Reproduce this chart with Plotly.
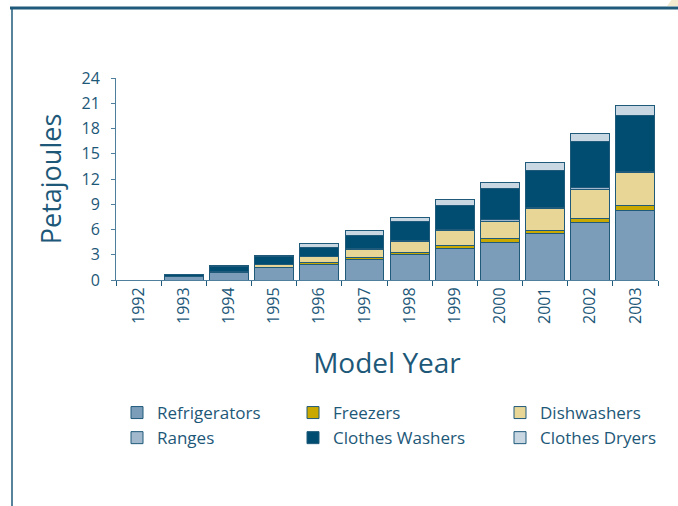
"""Energy savings by model year, stacked by appliance."""

import plotly.graph_objects as go

years = ["1992", "1993", "1994", "1995", "1996", "1997", "1998", "1999", "2000", "2001", "2002", "2003"]

refrigerators = [0, 0.40, 0.90, 1.45, 1.90, 2.45, 3.05, 3.70, 4.50, 5.50, 6.80, 8.20]
freezers = [0, 0.02, 0.08, 0.05, 0.20, 0.25, 0.25, 0.45, 0.40, 0.35, 0.50, 0.60]
dishwashers = [0, 0.00, 0.02, 0.35, 0.70, 0.95, 1.30, 1.75, 2.10, 2.60, 3.50, 4.00]
ranges = [0, 0.00, 0.00, 0.00, 0.05, 0.08, 0.10, 0.15, 0.15, 0.15, 0.15, 0.15]
clothes_washers = [0, 0.24, 0.66, 0.97, 1.05, 1.60, 2.20, 2.75, 3.70, 4.40, 5.45, 6.65]
clothes_dryers = [0, 0.05, 0.08, 0.10, 0.45, 0.60, 0.55, 0.75, 0.75, 1.00, 0.95, 1.15]

series = [
    ("Refrigerators", refrigerators, "#7b9db9", "legend"),
    ("Freezers", freezers, "#c9a900", "legend2"),
    ("Dishwashers", dishwashers, "#e8d697", "legend3"),
    ("Ranges", ranges, "#a2b9cd", "legend"),
    ("Clothes Washers", clothes_washers, "#014d71", "legend2"),
    ("Clothes Dryers", clothes_dryers, "#c9d7e3", "legend3"),
]

TXT = "#1d5878"
FONT = "Open Sans, DejaVu Sans, sans-serif"

fig = go.Figure()
for name, vals, color, leg in series:
    fig.add_trace(go.Bar(
        x=years, y=vals, name=name, legend=leg,
        marker=dict(color=color, line=dict(color="#1f5a7a", width=1)),
    ))

# plot area in px: x 116..658, y 78..280
def px(x):
    return (x - 116) / 542


def py(y):
    return (280 - y) / 202


leg_common = dict(
    orientation="v", yanchor="top", xanchor="left", traceorder="normal",
    font=dict(size=17, color=TXT, family=FONT),
    bgcolor="rgba(0,0,0,0)", tracegroupgap=0, itemwidth=30,
)
fig.update_layout(
    barmode="stack",
    bargap=0.14,
    width=678, height=506,
    margin=dict(l=116, r=20, t=78, b=226),
    paper_bgcolor="white", plot_bgcolor="white",
    font=dict(family=FONT, color=TXT),
    legend=dict(x=px(117), y=py(395), **leg_common),
    legend2=dict(x=px(293), y=py(395), **leg_common),
    legend3=dict(x=px(500), y=py(395), **leg_common),
    xaxis=dict(
        type="category", tickangle=-90, tickson="boundaries",
        ticks="outside", ticklen=5, tickcolor="#1f5a7a",
        showline=True, linecolor="#4f7f9c", linewidth=1,
        tickfont=dict(size=16, color=TXT),
        title=dict(text="Model Year", font=dict(size=28, color=TXT), standoff=30),
        showgrid=False,
    ),
    yaxis=dict(
        range=[0, 24], dtick=3, ticks="outside", ticklen=4, tickcolor="#4f7f9c",
        showline=True, linecolor="#4f7f9c", linewidth=1, ticklabelstandoff=8,
        tickfont=dict(size=16, color=TXT),
        title=dict(text="Petajoules", font=dict(size=27, color=TXT), standoff=12),
        showgrid=False, zeroline=False,
    ),
    shapes=[
        dict(type="path", xref="paper", yref="paper",
             path=f"M {px(667)} {py(6)} L {px(680)} {py(6)} L {px(680)} {py(-2)} L {px(673)} {py(-2)} Z",
             fillcolor="#f4ead0", line=dict(width=0)),
        dict(type="line", xref="paper", yref="paper", x0=px(10), x1=px(680), y0=py(8), y1=py(8),
             line=dict(color="#1f5a7a", width=3)),
        dict(type="line", xref="paper", yref="paper", x0=px(12), x1=px(12), y0=py(8), y1=py(510),
             line=dict(color="#1f5a7a", width=1.5)),
    ],
)

fig.write_html("out.html", config={"displayModeBar": False},
               post_script="document.body.style.margin='0px';")
